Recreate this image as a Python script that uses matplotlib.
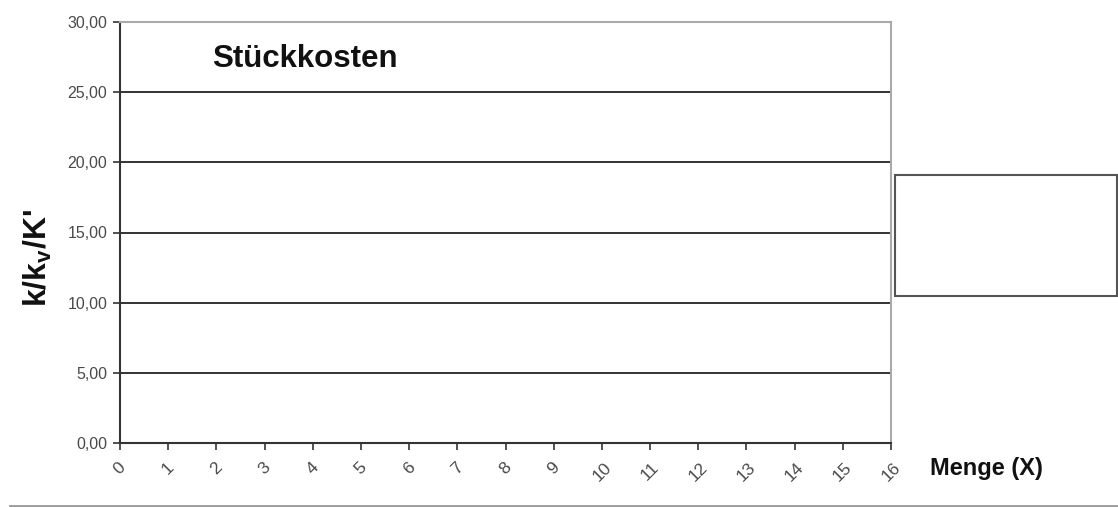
import matplotlib
matplotlib.use("Agg")
import matplotlib.pyplot as plt
from matplotlib.patches import Rectangle
from matplotlib.lines import Line2D

# Axis categories and scale
mengen = list(range(0, 17))
y_ticks = [0, 5, 10, 15, 20, 25, 30]
y_tick_labels = ["0,00", "5,00", "10,00", "15,00", "20,00", "25,00", "30,00"]

title_text = "Stückkosten"
y_label = r"k/k$_\mathbf{v}$/K'"
x_label = "Menge (X)"

plt.rcParams["font.family"] = ["Liberation Sans", "DejaVu Sans"]
plt.rcParams["mathtext.fontset"] = "custom"
plt.rcParams["mathtext.bf"] = "Liberation Sans:bold"
plt.rcParams["mathtext.rm"] = "Liberation Sans"

W, H = 1118, 507
fig = plt.figure(figsize=(W / 100, H / 100), dpi=100)
fig.patch.set_facecolor("white")

left, right, top, bottom = 120, 891, 22, 443
ax = fig.add_axes([left / W, 1 - bottom / H, (right - left) / W, (bottom - top) / H])

ax.set_xlim(mengen[0], mengen[-1])
ax.set_ylim(y_ticks[0], y_ticks[-1])

ax.set_yticks(y_ticks)
ax.set_yticklabels(y_tick_labels, fontsize=11.5, color="#4a4a4a")
ax.set_xticks(mengen)
ax.set_xticklabels([str(m) for m in mengen], fontsize=12.5, color="#4a4a4a",
                   rotation=45, ha="center", va="top")

ax.tick_params(axis="y", direction="out", length=5, width=1.2, color="#333333", pad=4)
ax.tick_params(axis="x", direction="out", length=5, width=1.2, color="#333333", pad=7)

# Horizontal gridlines
for v in y_ticks[1:-1]:
    ax.axhline(v, color="#333333", linewidth=1.4, zorder=1)

for side in ("left", "bottom"):
    ax.spines[side].set_color("#333333")
    ax.spines[side].set_linewidth(1.5)
for side in ("top", "right"):
    ax.spines[side].set_color("#aaaaaa")
    ax.spines[side].set_linewidth(1.5)

# Titles and axis labels
fig.text(212 / W, 1 - 59 / H, title_text, fontsize=22.5, fontweight="bold",
         ha="left", va="center", color="#111111")
fig.text(38 / W, 1 - 258 / H, y_label, fontsize=23, fontweight="bold",
         rotation=90, ha="center", va="center", color="#111111")
fig.text(930 / W, 1 - 469 / H, x_label, fontsize=17, fontweight="bold",
         ha="left", va="center", color="#111111")

# Empty legend frame
fig.add_artist(Rectangle((895 / W, 1 - 296 / H), (1117 - 895) / W, (296 - 175) / H,
                         transform=fig.transFigure, facecolor="white",
                         edgecolor="#555555", linewidth=1.5))

# Separator line below the chart
fig.add_artist(Line2D([10 / W, 1.0], [1 - 505.5 / H, 1 - 505.5 / H],
                      transform=fig.transFigure, color="#999999", linewidth=2))

fig.savefig("out.png", dpi=100, facecolor="white")
